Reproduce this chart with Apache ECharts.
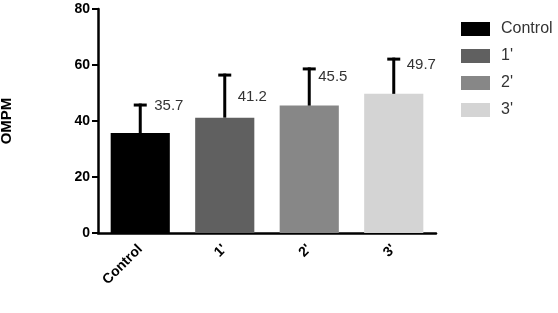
<!DOCTYPE html>
<html><head><meta charset="utf-8">
<script src="https://cdn.jsdelivr.net/npm/echarts@6/dist/echarts.min.js"></script>
<style>html,body{margin:0;padding:0;background:#fff}#c{width:558px;height:313px}</style>
</head><body><div id="c"></div>
<script>
const categories = ['Control', "1'", "2'", "3'"];
const means = [35.7, 41.2, 45.5, 49.7];
const sds = [10.0, 15.2, 13.1, 12.4];
const yTicks = [0, 20, 40, 60, 80];
const colors = ['#000000', '#606060', '#878787', '#d4d4d4'];
const labelDy = [1, 22, 8, 6];   // label vertical offsets (px) below error-bar top
const labelDx = [14, 13, 9, 13];

const chart = echarts.init(document.getElementById('c'));
const font = '"Liberation Sans", Arial, sans-serif';

const barSeries = categories.map((name, i) => ({
  name: name,
  type: 'bar',
  barWidth: '70%',
  barGap: '-100%',
  itemStyle: { color: colors[i] },
  data: categories.map((c, j) => j === i ? means[j] : '-'),
  z: 2
}));

const errSeries = {
  type: 'custom',
  z: 3,
  silent: true,
  data: categories.map((c, i) => [i, means[i], means[i] + sds[i]]),
  renderItem: function (params, api) {
    const i = api.value(0);
    const base = api.coord([i, api.value(1)]);
    const top = api.coord([i, api.value(2)]);
    const hw = 6.5;
    const style = { stroke: '#000', lineWidth: 3 };
    return {
      type: 'group',
      children: [
        { type: 'line', shape: { x1: base[0], y1: base[1], x2: top[0], y2: top[1] - 1.5 }, style: style },
        { type: 'line', shape: { x1: top[0] - hw, y1: top[1], x2: top[0] + hw, y2: top[1] }, style: style },
        { type: 'text', x: top[0] + labelDx[i], y: top[1] + labelDy[i],
          style: { text: means[i].toFixed(1), fill: '#333', font: '15px ' + font, textVerticalAlign: 'middle', textAlign: 'left' } }
      ]
    };
  }
};

chart.setOption({
  animation: false,
  grid: { left: 98, top: 9, right: 122, bottom: 80, containLabel: false, outerBoundsMode: 'none' },
  legend: {
    data: categories,
    orient: 'vertical',
    left: 456, top: 16,
    icon: 'rect',
    itemWidth: 29, itemHeight: 14,
    itemGap: 11,
    textStyle: { color: '#333', fontSize: 16, fontFamily: font, padding: [0, 0, 0, 6] }
  },
  xAxis: {
    type: 'category',
    data: categories,
    axisLine: { lineStyle: { color: '#000', width: 2.5 } },
    axisTick: { alignWithLabel: true, length: 6, lineStyle: { color: '#000', width: 2 } },
    axisLabel: { rotate: 45, color: '#000', fontWeight: 'bold', fontSize: 14, fontFamily: font, margin: 14 },
    splitLine: { show: false }
  },
  yAxis: {
    type: 'value',
    min: yTicks[0], max: yTicks[yTicks.length - 1], interval: 20,
    name: 'OMPM',
    nameLocation: 'middle',
    nameGap: 84,
    nameRotate: 90,
    nameTextStyle: { color: '#000', fontWeight: 'bold', fontSize: 15, fontFamily: font },
    axisLine: { show: true, lineStyle: { color: '#000', width: 2.5 } },
    axisTick: { show: true, length: 6, lineStyle: { color: '#000', width: 2 } },
    axisLabel: { color: '#000', fontWeight: 'bold', fontSize: 14, fontFamily: font, margin: 8 },
    splitLine: { show: false }
  },
  series: barSeries.concat([errSeries])
});
</script></body></html>
